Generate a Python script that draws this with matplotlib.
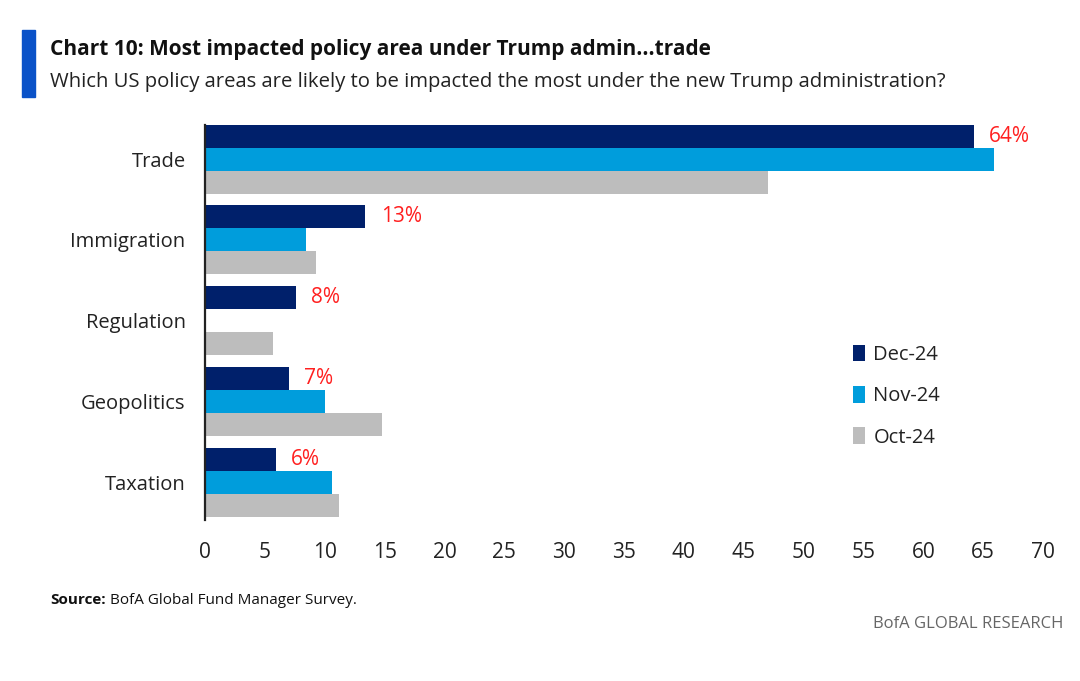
import numpy as np
import matplotlib
matplotlib.use("Agg")
import matplotlib.pyplot as plt
from matplotlib import font_manager
from matplotlib.patches import Rectangle

# pick a narrow font if there is one
names = {f.name for f in font_manager.fontManager.ttflist}
fam = "Liberation Sans Narrow" if "Liberation Sans Narrow" in names else "Open Sans"
plt.rcParams['font.family'] = [fam, 'DejaVu Sans']

# data
categories = ['Trade', 'Immigration', 'Regulation', 'Geopolitics', 'Taxation']
dec24 = [64.2, 13.4, 7.6, 7.0, 5.9]
nov24 = [65.9, 8.4, 0.0, 10.0, 10.6]
oct24 = [47.0, 9.3, 5.7, 14.8, 11.2]
series_names = ['Dec-24', 'Nov-24', 'Oct-24']
colors = ['#00206B', '#009DDC', '#BDBDBD']
xticks = list(range(0, 75, 5))

fig = plt.figure(figsize=(10.8, 6.81), dpi=100)
ax = fig.add_axes([0.1898, 0.2364, 0.776, 0.58])

y = np.arange(len(categories))
h = 0.284
for i, (vals, name, c) in enumerate(zip([dec24, nov24, oct24], series_names, colors)):
    ax.barh(y + (i - 1) * h, vals, height=h, color=c, label=name, edgecolor='none')

# red labels on the Dec bars
for yi, v in zip(y, dec24):
    ax.annotate(f"{v:.0f}%", xy=(v, yi - h), xytext=(11, 0), textcoords='offset points',
                ha='left', va='center', color='#FF2020', fontsize=15)

ax.set_xlim(0, 70)
ax.set_ylim(4.46, -0.42)
ax.set_xticks(xticks)
ax.set_yticks(y)
ax.set_yticklabels(categories)
ax.tick_params(axis='x', length=0, pad=16, labelsize=15, colors='#222222')
ax.tick_params(axis='y', length=0, pad=14, labelsize=14.5, colors='#222222')
for s in ['top', 'right', 'bottom']:
    ax.spines[s].set_visible(False)
ax.spines['left'].set_linewidth(1.6)
ax.spines['left'].set_color('#222222')

leg = ax.legend(loc='upper left', bbox_to_anchor=(0.752, 0.49), frameon=False,
                fontsize=14.5, handlelength=0.6, handleheight=0.9,
                handletextpad=0.4, labelspacing=1.05)
for t in leg.get_texts():
    t.set_color('#222222')

# header
fig.patches.append(Rectangle((22 / 1080, 1 - 97 / 681), 13 / 1080, 67 / 681,
                             transform=fig.transFigure, color='#0A52C8'))
fig.text(50 / 1080, 1 - 50 / 681, "Chart 10: Most impacted policy area under Trump admin...trade",
         fontsize=15, fontweight='bold', va='center', color='#111111')
fig.text(50 / 1080, 1 - 82 / 681,
         "Which US policy areas are likely to be impacted the most under the new Trump administration?",
         fontsize=14.6, va='center', color='#222222')

# footer
src = fig.text(50 / 1080, 1 - 600 / 681, "Source:", fontsize=11, fontweight='bold',
               va='center', color='#111111')
fig.canvas.draw()
bb = src.get_window_extent()
fig.text((bb.x1 + 4) / 1080, 1 - 600 / 681, "BofA Global Fund Manager Survey.",
         fontsize=11, va='center', color='#111111')
fig.text(1063 / 1080, 1 - 624 / 681, "BofA GLOBAL RESEARCH", fontsize=12,
         ha='right', va='center', color='#666666')

fig.savefig("out.png", dpi=100)
